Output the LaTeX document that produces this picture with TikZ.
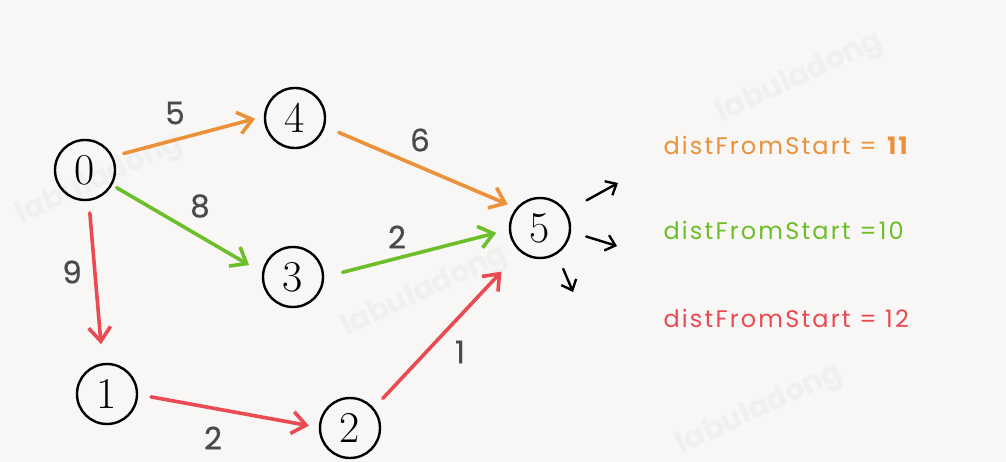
\documentclass[tikz,border=0pt]{standalone}
\usepackage{fontspec}
\setsansfont{Poppins}
\usetikzlibrary{arrows.meta}
\definecolor{paper}{HTML}{F8F7F5}
\definecolor{eorange}{HTML}{EA913A}
\definecolor{egreen}{HTML}{6CBF2A}
\definecolor{ered}{HTML}{EA4A52}
\definecolor{wlabel}{HTML}{4A4A4A}
\begin{document}
\begin{tikzpicture}[x=1pt,y=-1pt,
  vertex/.style={circle,draw=black,line width=2.4pt,minimum size=60pt,inner sep=0pt,
    font=\fontsize{44}{44}\selectfont},
  edge/.style={line width=3.6pt,line cap=round,
    -{Straight Barb[length=14pt,width=22pt,line width=3.6pt]}},
  outarrow/.style={line width=2.4pt,line cap=round,
    -{Straight Barb[length=9pt,width=16pt,line width=2.4pt]}},
  weight/.style={text=wlabel,font=\sffamily\fontsize{31}{31}\selectfont\addfontfeatures{FakeBold=0.6}},
  dist/.style={anchor=west,font=\sffamily\fontsize{24}{24}\selectfont\addfontfeatures{LetterSpace=9}},
  watermark/.style={text=black!6,font=\sffamily\bfseries\fontsize{30}{30}\selectfont}]
\fill[paper] (0,0) rectangle (1006,462);
\useasboundingbox (0,0) rectangle (1006,462);

% faint watermarks
\node[watermark,rotate=25] (w1) at (100,180) {labuladong};
\node[watermark,rotate=25] (w2) at (425,292) {labuladong};
\node[watermark,rotate=25] (w3) at (800,78) {labuladong};
\node[watermark,rotate=25] (w4) at (760,410) {labuladong};

% vertices
\node[vertex] (n0) at (85,170) {0};
\node[vertex] (n4) at (295,118) {4};
\node[vertex] (n3) at (293,277) {3};
\node[vertex] (n5) at (540,228) {5};
\node[vertex] (n1) at (107,394) {1};
\node[vertex] (n2) at (350,428) {2};

% orange path 0 -> 4 -> 5
\draw[edge,eorange,shorten <=11pt,shorten >=9pt] (n0.26) -- (n4.177);
\draw[edge,eorange,shorten <=15pt,shorten >=9pt] (n4.-16) -- (n5.140);
% green path 0 -> 3 -> 5
\draw[edge,egreen,shorten <=5pt,shorten >=15pt] (n0.-29) -- (n3.172);
\draw[edge,egreen,shorten <=19pt,shorten >=13pt] (n3.0) -- (n5.183);
% red path 0 -> 1 -> 2 -> 5
\draw[edge,ered,shorten <=12pt,shorten >=19pt] (n0.-83) -- (n1.98);
\draw[edge,ered,shorten <=13pt,shorten >=10pt] (n1.-1) -- (n2.179);
\draw[edge,ered,shorten <=13pt,shorten >=27pt] (n2.40) -- (n5.230);

% edge weights
\node[weight] (l04) at (175,113) {5};
\node[weight] (l45) at (420,140) {6};
\node[weight] (l03) at (200,206) {8};
\node[weight] (l35) at (397,237) {2};
\node[weight] (l01) at (72,272) {9};
\node[weight] (l12) at (213,438) {2};
\node[weight] (l25) at (460,352) {1};

% outgoing edges of vertex 5
\coordinate (o1) at (618,183);
\coordinate (o2) at (617,246);
\coordinate (o3) at (573,292);
\draw[outarrow,shorten <=23pt] (n5.32) -- (o1);
\draw[outarrow,shorten <=16pt] (n5.-7) -- (o2);
\draw[outarrow,shorten <=16pt] (n5.-57) -- (o3);

% distances
\node[dist,text=eorange] (d1) at (660,145) {distFromStart = \textbf{11}};
\node[dist,text=egreen] (d2) at (660,230) {distFromStart =10};
\node[dist,text=ered] (d3) at (660,318) {distFromStart = 12};
\end{tikzpicture}
\end{document}
